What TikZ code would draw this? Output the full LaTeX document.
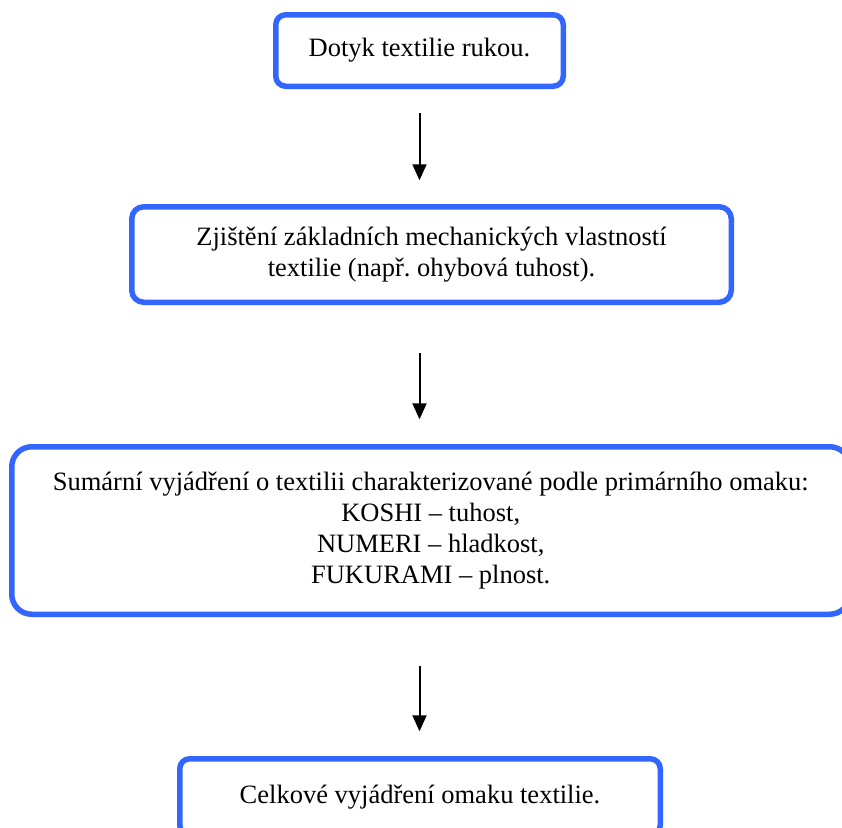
\documentclass[tikz,border=0pt]{standalone}
\usepackage{fontspec}
\setmainfont{Liberation Serif}
\usetikzlibrary{arrows.meta}
\definecolor{boxblue}{RGB}{51,102,255}
\frenchspacing
\begin{document}
\begin{tikzpicture}[x=1pt,y=-1pt,
  flowbox/.style={draw=boxblue, line width=5.5pt, fill=white, inner sep=0pt,
    align=center, font=\fontsize{26.5}{31}\selectfont},
  arr/.style={line width=2pt, -{Triangle[width=14pt,length=16pt]}}]
\useasboundingbox (0,0) rectangle (842,827);
\clip (0,0) rectangle (842,827);
\fill[white] (0,0) rectangle (842,827);
\node[flowbox, rounded corners=10pt, minimum width=287.5pt, minimum height=71.5pt] (b1) at (419.5,50.5) {Dotyk textilie rukou.};
\node[flowbox, rounded corners=12pt, minimum width=599.5pt, minimum height=95.5pt] (b2) at (431.5,254.5) {Zjištění základních mechanických vlastností\\textilie (např. ohybová tuhost).};
\node[flowbox, rounded corners=20pt, minimum width=838pt, minimum height=167.5pt] (b3) at (430.75,530.5) {Sumární vyjádření o textilii charakterizované podle primárního omaku:\\KOSHI – tuhost,\\NUMERI – hladkost,\\FUKURAMI – plnost.};
\node[flowbox, rounded corners=10pt, minimum width=480.5pt, minimum height=76.25pt] (b4) at (420,796.875) {Celkové vyjádření omaku textilie.};
\draw[arr, shorten <=23.75pt, shorten >=23.75pt] (b1.south) -- (b1.south |- b2.north);
\draw[arr, shorten <=47.75pt, shorten >=24.75pt] (b2.south -| b1.south) -- (b3.north -| b1.south);
\draw[arr, shorten <=48.75pt, shorten >=24.75pt] (b3.south -| b1.south) -- (b4.north -| b1.south);
\end{tikzpicture}
\end{document}
